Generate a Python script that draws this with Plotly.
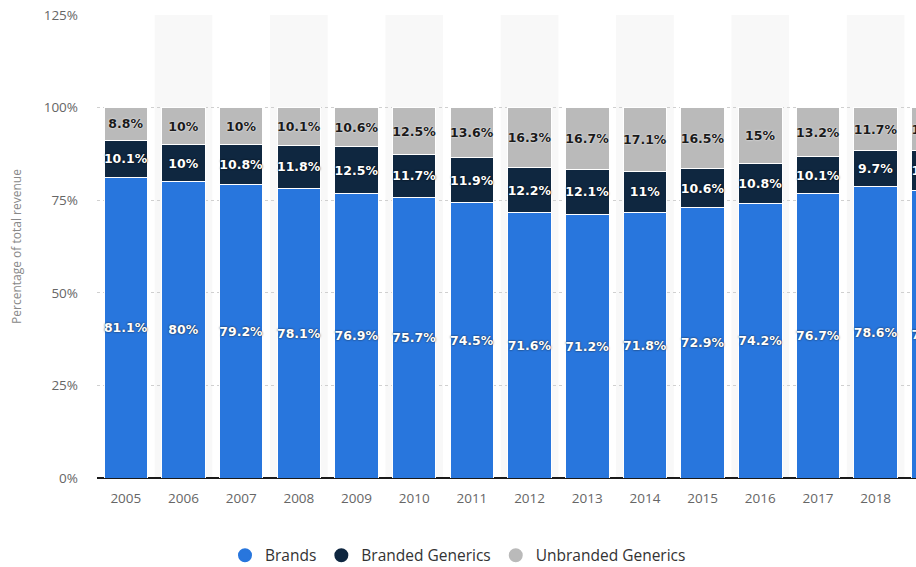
import plotly.graph_objects as go

years = ["2005", "2006", "2007", "2008", "2009", "2010", "2011", "2012",
         "2013", "2014", "2015", "2016", "2017", "2018", "2019"]
brands = [81.1, 80, 79.2, 78.1, 76.9, 75.7, 74.5, 71.6, 71.2, 71.8, 72.9,
          74.2, 76.7, 78.6, 77.6]
branded_generics = [10.1, 10, 10.8, 11.8, 12.5, 11.7, 11.9, 12.2, 12.1, 11,
                    10.6, 10.8, 10.1, 9.7, 10.7]
unbranded_generics = [8.8, 10, 10, 10.1, 10.6, 12.5, 13.6, 16.3, 16.7, 17.1,
                      16.5, 15, 13.2, 11.7, 11.7]
y_ticks = [0, 25, 50, 75, 100, 125]

series = [
    ("Brands", brands, "#2876dd", "white", "0px 0px 2px #1a1a1a"),
    ("Branded Generics", branded_generics, "#0f2740", "white", "0px 0px 2px #000000"),
    ("Unbranded Generics", unbranded_generics, "#bababa", "#1a1a1a", "0px 0px 2px #ffffff"),
]

fig = go.Figure()
for name, vals, color, tcolor, shadow in series:
    fig.add_trace(go.Bar(
        x=years, y=vals, name=name, showlegend=False,
        marker=dict(color=color, line=dict(color="white", width=1)),
        text=[f"{v:g}%" for v in vals],
        textposition="inside", insidetextanchor="middle",
        textangle=0, constraintext="none",
        textfont=dict(family="DejaVu Sans", size=12.5, color=tcolor,
                      weight="bold", shadow=shadow),
    ))

# legend entries with round symbols
for name, vals, color, tcolor, shadow in series:
    fig.add_trace(go.Scatter(
        x=[None], y=[None], mode="markers", name=name,
        marker=dict(color=color, size=16, symbol="circle",
                    line=dict(color=color, width=2)),
    ))

# alternating category bands
for i in range(1, len(years), 2):
    fig.add_shape(type="rect", xref="x", yref="paper",
                  x0=i - 0.5, x1=i + 0.5, y0=0, y1=1,
                  fillcolor="#f8f8f8", line=dict(width=0), layer="below")

fig.update_layout(
    width=916, height=567,
    margin=dict(l=97, r=0, t=15, b=89),
    barmode="stack", bargap=0.245,
    plot_bgcolor="white", paper_bgcolor="white",
    font=dict(family="Open Sans", color="#666666"),
    xaxis=dict(
        type="category", range=[-0.5, 13.7],
        showgrid=False, ticks="", showline=False,
        tickfont=dict(size=13.5, color="#666666"),
        ticklabelstandoff=10,
    ),
    yaxis=dict(
        range=[0, 125], tickmode="array", tickvals=y_ticks,
        ticktext=[f"{t}%" for t in y_ticks],
        showgrid=True, gridcolor="#d0d0d0",
        griddash="dot", gridwidth=1,
        zeroline=True, zerolinecolor="#1a1a1a", zerolinewidth=2,
        tickfont=dict(size=13.5, color="#666666"), ticklabelstandoff=18,
        title=dict(text="Percentage of total revenue", standoff=19,
                   font=dict(size=12, color="#888888")),
    ),
    legend=dict(
        orientation="h", xref="container", yref="container",
        x=0.5, xanchor="center", y=0.02, yanchor="middle",
        traceorder="normal",
        font=dict(size=15.5, color="#333333", family="Open Sans"),
        itemsizing="constant",
    ),
)

fig.write_html("out.html")
